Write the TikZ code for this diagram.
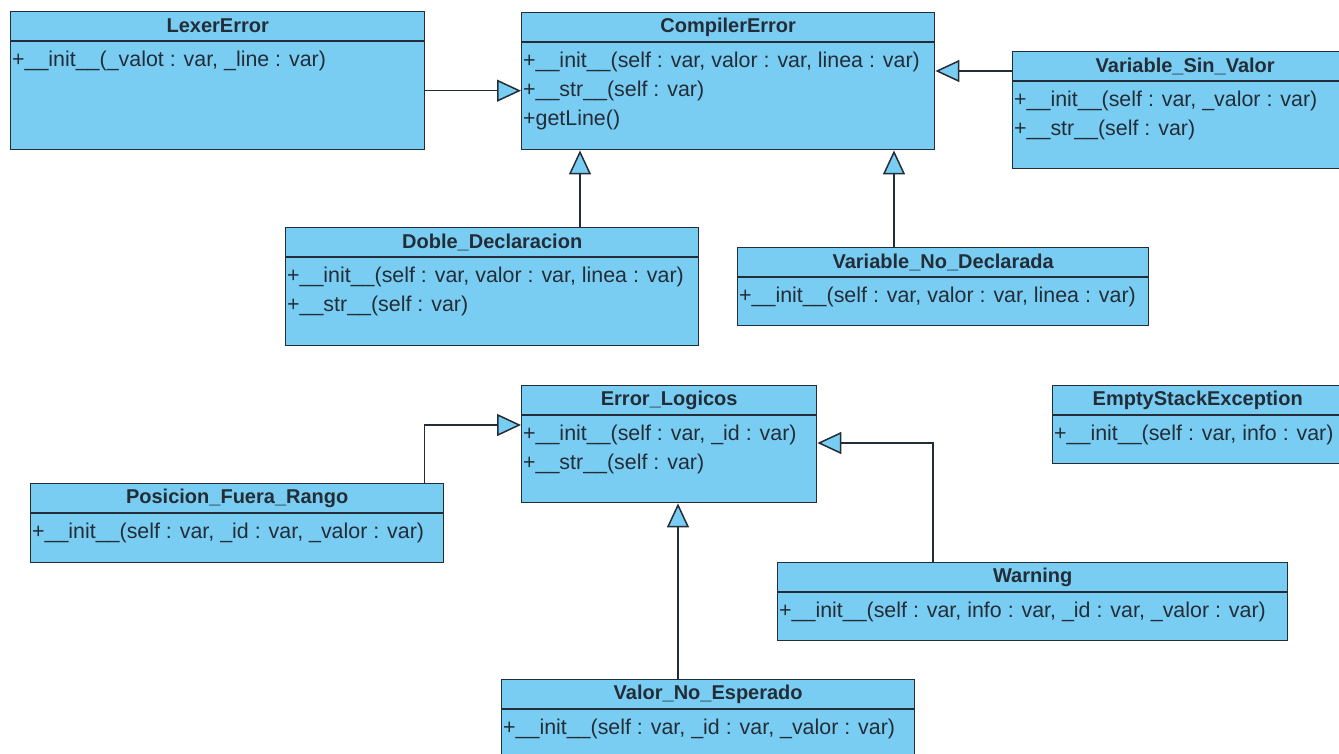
\documentclass[tikz,border=0pt]{standalone}
\usepackage{fontspec}
\setmainfont{Liberation Sans}
\usetikzlibrary{arrows.meta,positioning,calc}
\definecolor{classcolor}{RGB}{122,205,242}
\definecolor{linecolor}{RGB}{35,45,55}

% one class box: name, top left corner, width, height, title, operations
\newcommand{\umlclass}[6]{%
  \node[classbox, minimum width=#3, minimum height=#4, anchor=north west] (#1) at #2 {};
  \draw[linecolor, line width=1.4pt] ([yshift=-30pt]#1.north west) -- ([yshift=-30pt]#1.north east);
  \node[classtitle] (#1-title) at ([yshift=-15pt]#1.north) {#5};
  \foreach \op [count=\i] in {#6}
    \node[classop] (#1-op\i) at ([xshift=2pt, yshift={-(20.5+29*\i)*1pt}]#1.north west) {\op};
}

\begin{document}
\begin{tikzpicture}[x=1pt, y=-1pt,
    classbox/.style={draw=linecolor, fill=classcolor, line width=1.4pt, inner sep=0pt},
    classtitle/.style={font=\fontsize{20}{24}\selectfont\bfseries, text=linecolor, inner sep=0pt},
    classop/.style={anchor=west, font=\fontsize{21.4}{25}\selectfont, text=linecolor, inner sep=0pt},
    generalization/.style={-{Triangle[length=24pt, width=22pt, fill=classcolor]}, draw=linecolor, line width=1.5pt}]
  \clip (0,0) rectangle (1339,753);

  % compiler errors
  \umlclass{lexer}{(10,11)}{414pt}{138pt}{LexerError}{{+\_\_init\_\_(\_valot : var, \_line : var)}}
  \umlclass{compiler}{(521,12)}{413pt}{137pt}{CompilerError}{{+\_\_init\_\_(self : var, valor : var, linea : var)},{+\_\_str\_\_(self : var)},{+getLine()}}
  \umlclass{sinvalor}{(1012,51)}{345pt}{117pt}{Variable\_Sin\_Valor}{{+\_\_init\_\_(self : var, \_valor : var)},{+\_\_str\_\_(self : var)}}
  \umlclass{doble}{(285,227)}{413pt}{118pt}{Doble\_Declaracion}{{+\_\_init\_\_(self : var, valor : var, linea : var)},{+\_\_str\_\_(self : var)}}
  \umlclass{nodecl}{(737,247)}{411pt}{78pt}{Variable\_No\_Declarada}{{+\_\_init\_\_(self : var, valor : var, linea : var)}}

  % logic errors
  \umlclass{logicos}{(521,385)}{295pt}{117pt}{Error\_Logicos}{{+\_\_init\_\_(self : var, \_id : var)},{+\_\_str\_\_(self : var)}}
  \umlclass{emptystack}{(1052,385)}{290pt}{78pt}{EmptyStackException}{{+\_\_init\_\_(self : var, info : var)}}
  \umlclass{fuera}{(30,483)}{413pt}{79pt}{Posicion\_Fuera\_Rango}{{+\_\_init\_\_(self : var, \_id : var, \_valor : var)}}
  \umlclass{warning}{(777,562)}{510pt}{78pt}{Warning}{{+\_\_init\_\_(self : var, info : var, \_id : var, \_valor : var)}}
  \umlclass{noesperado}{(501,679)}{413pt}{90pt}{Valor\_No\_Esperado}{{+\_\_init\_\_(self : var, \_id : var, \_valor : var)}}

  % inheritance
  \draw[generalization] ([yshift=-10pt]lexer.east) -- ([yshift=-10pt]lexer.east -| compiler.west);
  \draw[generalization] ([yshift=-20pt]sinvalor.north west) -- ([yshift=-20pt]sinvalor.north west -| compiler.east);
  \draw[generalization] ([xshift=295pt]doble.north west) -- ([xshift=295pt]doble.north west |- compiler.south);
  \draw[generalization] ([xshift=157pt]nodecl.north west) -- ([xshift=157pt]nodecl.north west |- compiler.south);
  \draw[generalization] ([xshift=-20pt]fuera.north east) |- ([yshift=-40pt]logicos.north west);
  \draw[generalization] ([xshift=156pt]warning.north west) |- ([yshift=-58pt]logicos.north east);
  \draw[generalization] ([xshift=177pt]noesperado.north west) -- ([xshift=177pt]noesperado.north west |- logicos.south);
\end{tikzpicture}
\end{document}
